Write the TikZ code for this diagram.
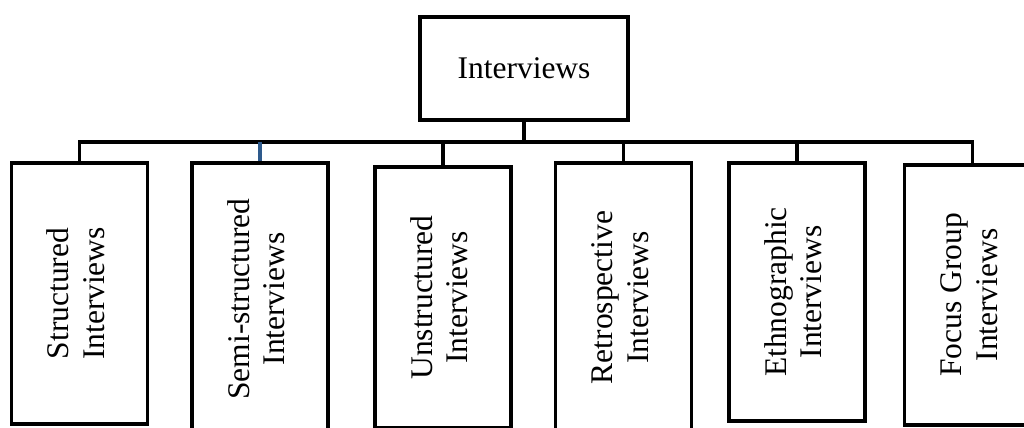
\documentclass[tikz,border=0pt]{standalone}
\usepackage{fontspec}
\usepackage{graphicx}
\setmainfont{Liberation Serif}
\usetikzlibrary{positioning}
\definecolor{stemblue}{RGB}{46,90,140}
\tikzset{
    head/.style ={
        shape=rectangle,
        draw=black,
        line width=2.8pt,
        minimum width=5.2cm,
        minimum height=2.58cm,
        inner sep=0pt,
        font=\fontsize{22.4}{25}\selectfont
    },
    kind/.style ={
        shape=rectangle,
        draw=black,
        line width=2.8pt,
        minimum width=3.4cm,
        minimum height=#1,
        inner sep=0pt,
        font=\fontsize{22.4}{25}\selectfont
    },
    kind/.default=6.52cm,
    link/.style ={
        draw=black,
        line width=2.4pt
    }
}
\newcommand{\vlabel}[2]{\rotatebox{90}{\begin{tabular}{@{}c@{}}#1\\#2\end{tabular}}}

\begin{document}
\begin{tikzpicture}[x=0.025cm,y=-0.025cm]
    \useasboundingbox (0,0) rectangle (1024,427);
    \node[head] (top) at(524,68.5) {Interviews};
    \node[kind] (s1) at(79.5,293.5) {\vlabel{Structured}{Interviews}};
    \node[kind=6.8cm] (s2) at(260,299) {\vlabel{Semi-structured}{Interviews}};
    \node[kind] (s3) at(443,297.5) {\vlabel{Unstructured}{Interviews}};
    \node[kind=6.72cm] (s4) at(623.5,297.5) {\vlabel{Retrospective}{Interviews}};
    \node[kind=6.45cm] (s5) at(797,292) {\vlabel{Ethnographic}{Interviews}};
    \node[kind=6.5cm] (s6) at(972.5,295) {\vlabel{Focus Group}{Interviews}};
    \coordinate (bus) at(524,142);
    % bus and outer stems
    \draw[link] (s1.north) |- (bus) -| (s6.north);
    \draw[link] (top.south) -- (bus);
    \draw[link,draw=stemblue] (s2.north) -- (s2.north |- bus);
    \foreach \n in {s3,s4,s5}
        \draw[link] (\n.north) -- (\n.north |- bus);
\end{tikzpicture}
\end{document}
